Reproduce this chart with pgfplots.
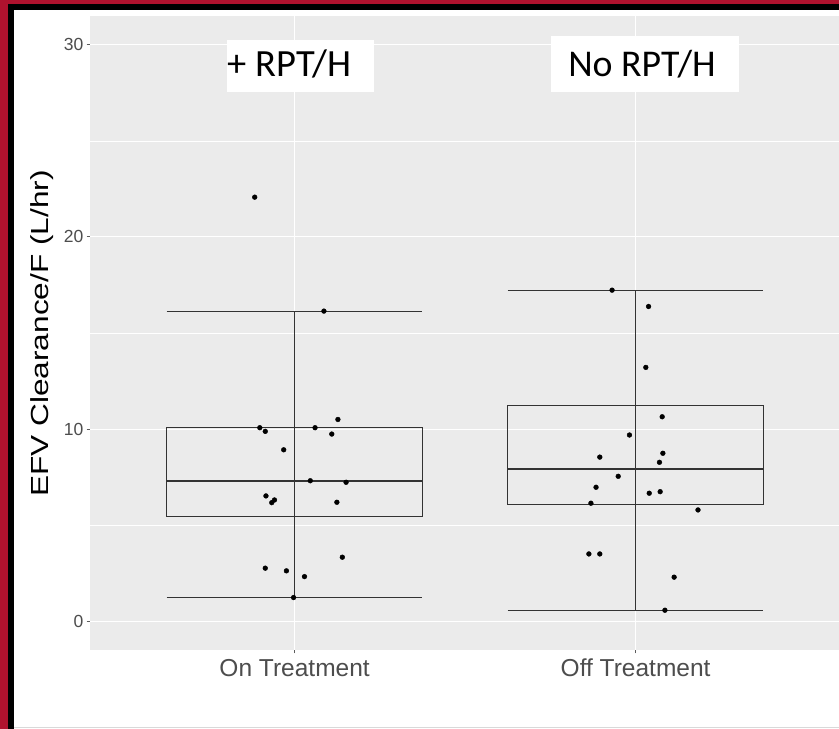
\documentclass[border=0pt]{standalone}
\usepackage{pgfplots}
\pgfplotsset{compat=1.18}
\usepackage{fontspec}
\setmainfont{Liberation Sans}
\newfontfamily\calibri{Carlito}
\definecolor{ggbg}{HTML}{EBEBEB}
\definecolor{ggtxt}{HTML}{4D4D4D}
\definecolor{ggline}{HTML}{333333}
\definecolor{frred}{RGB}{176,18,46}
\pgfplotstableread{
x y
0.883 22.07
1.086 16.14
1.127 10.50
0.898 10.07
0.914 9.88
1.060 10.07
1.109 9.74
0.968 8.92
1.046 7.31
1.151 7.23
0.916 6.52
0.941 6.31
0.933 6.17
1.124 6.19
1.140 3.33
0.914 2.76
0.976 2.62
1.029 2.32
0.997 1.23
}\ontreat
\pgfplotstableread{
x y
1.931 17.23
2.038 16.38
2.030 13.21
2.078 10.64
1.982 9.69
2.080 8.74
1.895 8.54
2.070 8.27
1.949 7.54
1.884 6.97
2.040 6.66
2.072 6.74
1.869 6.14
2.183 5.79
1.863 3.50
1.895 3.50
2.113 2.29
2.086 0.57
}\offtreat
\begin{document}
\begin{tikzpicture}[x=1pt,y=1pt]
\useasboundingbox (0,0) rectangle (839,729);
\fill[white] (0,0) rectangle (839,729);
\fill[frred] (0,0) rectangle (8,729);
\fill[frred] (0,725) rectangle (839,729);
\fill[black] (8,0) rectangle (14,725);
\fill[black] (8,719) rectangle (839,725);
\fill[black!15] (14,0.6) rectangle (839,2);
\begin{axis}[
  at={(90pt,79pt)}, anchor=south west, scale only axis,
  width=749pt, height=634pt,
  xmin=0.4, xmax=2.5965, ymin=-1.5, ymax=31.5,
  axis background/.style={fill=ggbg},
  axis line style={draw=none},
  tick pos=left, tick align=outside,
  major tick length=3.4pt, minor tick length=0pt,
  tick style={ggline!80, line width=1pt},
  xtick={1,2}, xticklabels={On Treatment, Off Treatment},
  ytick={0,10,20,30}, minor ytick={5,15,25},
  grid=both,
  major grid style={white, line width=1.1pt},
  minor grid style={white, line width=0.55pt},
  /pgf/number format/assume math mode=true,
  yticklabel style={font=\fontsize{17.5}{18}\selectfont, text=ggtxt, inner sep=0pt, anchor=east, xshift=-3pt},
  xticklabel style={font=\fontsize{24.5}{26}\selectfont, text=ggtxt, inner sep=0pt, anchor=north, text height=17.6pt, text depth=5pt, yshift=-5.5pt},
  clip=false,
]
\fill[white] (axis cs:0.8018,27.55) rectangle (axis cs:1.2328,30.25);
\fill[white] (axis cs:1.752,27.55) rectangle (axis cs:2.303,30.46);
\node[anchor=base west, inner sep=0pt, font=\calibri\fontsize{38.5}{40}\selectfont] at (axis cs:0.8026,28.34) {+ RPT/H};
\node[anchor=base west, inner sep=0pt, font=\calibri\fontsize{37.8}{40}\selectfont] at (axis cs:1.802,28.34) {No RPT/H};
% On Treatment
\addplot[ggline, line width=1pt] coordinates {(1,1.23) (1,16.14)};
\addplot[ggline, line width=1pt] coordinates {(0.625,16.14) (1.375,16.14)};
\addplot[ggline, line width=1pt] coordinates {(0.625,1.23) (1.375,1.23)};
\addplot[ggline, line width=1pt, line join=miter] coordinates {(0.625,5.46) (1.375,5.46) (1.375,10.07) (0.625,10.07) (0.625,5.46)} -- cycle;
\addplot[ggline, line width=1.8pt] coordinates {(0.625,7.30) (1.375,7.30)};
% Off Treatment
\addplot[ggline, line width=1pt] coordinates {(2,0.54) (2,17.23)};
\addplot[ggline, line width=1pt] coordinates {(1.625,17.23) (2.375,17.23)};
\addplot[ggline, line width=1pt] coordinates {(1.625,0.54) (2.375,0.54)};
\addplot[ggline, line width=1pt, line join=miter] coordinates {(1.625,6.08) (2.375,6.08) (2.375,11.25) (1.625,11.25) (1.625,6.08)} -- cycle;
\addplot[ggline, line width=1.8pt] coordinates {(1.625,7.94) (2.375,7.94)};
% points
\addplot[only marks, mark=*, mark size=2.4pt, black] table[x=x,y=y] {\ontreat};
\addplot[only marks, mark=*, mark size=2.4pt, black] table[x=x,y=y] {\offtreat};
\end{axis}
\node[rotate=90, anchor=base, inner sep=0pt, font=\fontsize{24.7}{26}\selectfont] at (48,395.5) {\scalebox{1.28}[1]{EFV Clearance/F (L/hr)}};
\end{tikzpicture}
\end{document}
